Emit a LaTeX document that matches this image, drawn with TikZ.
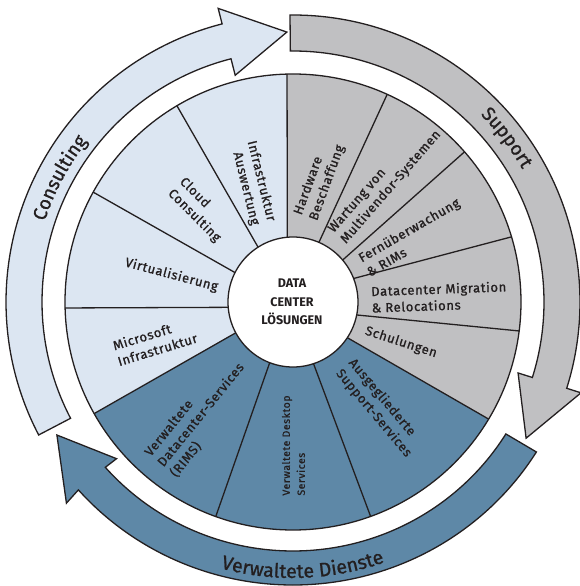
\documentclass[tikz,border=0pt]{standalone}
\usepackage{fontspec}
\setmainfont{Fira Sans}
\newfontfamily\labfont[LetterSpace=5,FakeBold=1]{Fira Sans}
\newfontfamily\arcfont[FakeBold=1]{Fira Sans}
\usetikzlibrary{calc,decorations.text}
\definecolor{lblue}{RGB}{220,230,242}
\definecolor{sgray}{RGB}{192,192,194}
\definecolor{dblue}{RGB}{94,136,167}
\definecolor{ink}{RGB}{35,31,32}
\tikzset{
  outl/.style={draw=ink, line width=1.3pt, line join=miter},
  seglabel/.style={font={\labfont\fontsize{13}{16.5}\selectfont}, text=ink, inner sep=0pt, align=left},
  smalllabel/.style={font={\labfont\fontsize{10.5}{15}\selectfont}, text=ink, inner sep=0pt, align=left},
  hublabel/.style={font={\bfseries\fontsize{12.5}{18.3}\selectfont}, text=ink, inner sep=0pt, align=center},
  arclabel/.style={decorate, decoration={text along path, text align=center, text={#1}}}
}
\begin{document}
\begin{tikzpicture}[x=1pt,y=1pt]
\useasboundingbox (-293,-284) rectangle (286,302);
\coordinate (C) at (0,0);
% boundary lines: inner and outer ends
\coordinate (L1i) at (95:65pt);     \coordinate (L1o) at (91.5:228pt);
\coordinate (L2i) at (66.5:65pt);   \coordinate (L2o) at (65.6:228pt);
\coordinate (L3i) at (40.2:65pt);   \coordinate (L3o) at (41.2:228pt);
\coordinate (L4i) at (21.2:65pt);   \coordinate (L4o) at (16.6:228pt);
\coordinate (L5i) at (-11.5:65pt);  \coordinate (L5o) at (-7.3:228pt);
\coordinate (L6i) at (-33.3:65pt);  \coordinate (L6o) at (-30.9:228pt);
\coordinate (L7i) at (-71.6:65pt);  \coordinate (L7o) at (-70.1:228pt);
\coordinate (L8i) at (-111:65pt);   \coordinate (L8o) at (-109.8:228pt);
\coordinate (L9i) at (208.3:65pt);  \coordinate (L9o) at (209.3:228pt);
\coordinate (L10i) at (184.7:65pt); \coordinate (L10o) at (181.5:228pt);
\coordinate (L11i) at (153.1:65pt); \coordinate (L11o) at (151.2:228pt);
\coordinate (L12i) at (122.5:65pt); \coordinate (L12o) at (120.6:228pt);

% sector fills
\begin{scope}
\clip (C) circle[radius=228pt];
\fill[sgray] (C) -- (L1i) -- ($(L1i)!1.5!(L1o)$) -- (60:400pt) -- (20:400pt) -- (-10:400pt) -- ($(L6i)!1.5!(L6o)$) -- (L6i) -- cycle;
\fill[dblue] (C) -- (L6i) -- ($(L6i)!1.5!(L6o)$) -- (-60:400pt) -- (-90:400pt) -- (-120:400pt) -- ($(L9i)!1.5!(L9o)$) -- (L9i) -- cycle;
\fill[lblue] (C) -- (L9i) -- ($(L9i)!1.5!(L9o)$) -- (180:400pt) -- (150:400pt) -- (120:400pt) -- ($(L1i)!1.5!(L1o)$) -- (L1i) -- cycle;
\end{scope}
\draw[outl] (C) circle[radius=228pt];
\foreach \k in {1,...,12} {\draw[outl] (L\k i) -- (L\k o);}
\node[circle, fill=white, draw=ink, line width=1.3pt, minimum size=130pt, inner sep=0pt] (hub) at (C) {};
\node[hublabel] (hubtext) at (-1,0) {DATA\\CENTER\\LÖSUNGEN};

% outer arrows
\draw[outl, fill=lblue] (207.6:287pt) arc[start angle=207.6, end angle=104.3, radius=287pt] -- (104.3:303pt) -- (91.3:270pt) -- (104.3:234pt) -- (104.3:251pt) arc[start angle=104.3, end angle=207.6, radius=251pt] -- cycle;
\draw[outl, fill=sgray] (90.6:287pt) arc[start angle=90.6, end angle=-17.5, radius=287pt] -- (-17.5:302pt) -- (-30.3:270pt) -- (-17.5:236pt) -- (-17.5:251pt) arc[start angle=-17.5, end angle=90.6, radius=251pt] -- cycle;
\draw[outl, fill=dblue] (-32:287pt and 283pt) arc[start angle=-32, end angle=-138.4, x radius=287pt, y radius=283pt] -- (-138.4:303pt) -- (-150.6:271pt) -- (-138.4:236pt) -- (-138.4:251pt and 249pt) arc[start angle=-138.4, end angle=-32, x radius=251pt, y radius=249pt] -- cycle;

% arc labels
\path[arclabel={|\arcfont\fontsize{19}{21}\selectfont\color{ink}|Consulting}] (182:261pt) arc[start angle=182, end angle=122, radius=261pt];
\path[arclabel={|\arcfont\fontsize{19}{21}\selectfont\color{ink}|Support}] (67.5:265pt) arc[start angle=67.5, end angle=7.5, radius=265pt];
\path[arclabel={|\arcfont\fontsize{19.5}{21}\selectfont\color{ink}|Verwaltete Dienste}] (-127.9:276pt) arc[start angle=-127.9, end angle=-47.9, radius=276pt];

% sector labels
\node[seglabel, rotate=-76, align=right] (s1) at (-40,119) {Infrastruktur\\Auswertung};
\node[seglabel, rotate=-45] (s2) at (-93,92) {Cloud\\Consulting};
\node[seglabel, rotate=-15] (s3) at (-121.5,27) {Virtualisierung};
\node[seglabel, rotate=17] (s4) at (-138,-39.5) {Microsoft\\Infrastruktur};
\node[seglabel, rotate=70] (s5) at (26.5,122) {Hardware\\Beschaffung};
\node[seglabel, rotate=49] (s6) at (92,120) {Wartung von\\Multivendor-Systemen};
\node[seglabel, rotate=30] (s7) at (120,65) {Fernüberwachung\\\& RIMs};
\node[seglabel, rotate=2] (s8) at (146,5) {Datacenter Migration\\\& Relocations};
\node[seglabel, rotate=-18] (s9) at (108,-40.5) {Schulungen};
\node[seglabel, rotate=-50] (s10) at (87,-106) {Ausgegliederte\\Support-Services};
\node[smalllabel, rotate=90] (s11) at (0.5,-143.5) {Verwaltete Desktop\\Services};
\node[seglabel, rotate=51] (s12) at (-92,-113) {Verwaltete\\Datacenter-Services\\(RIMS)};
\end{tikzpicture}
\end{document}
